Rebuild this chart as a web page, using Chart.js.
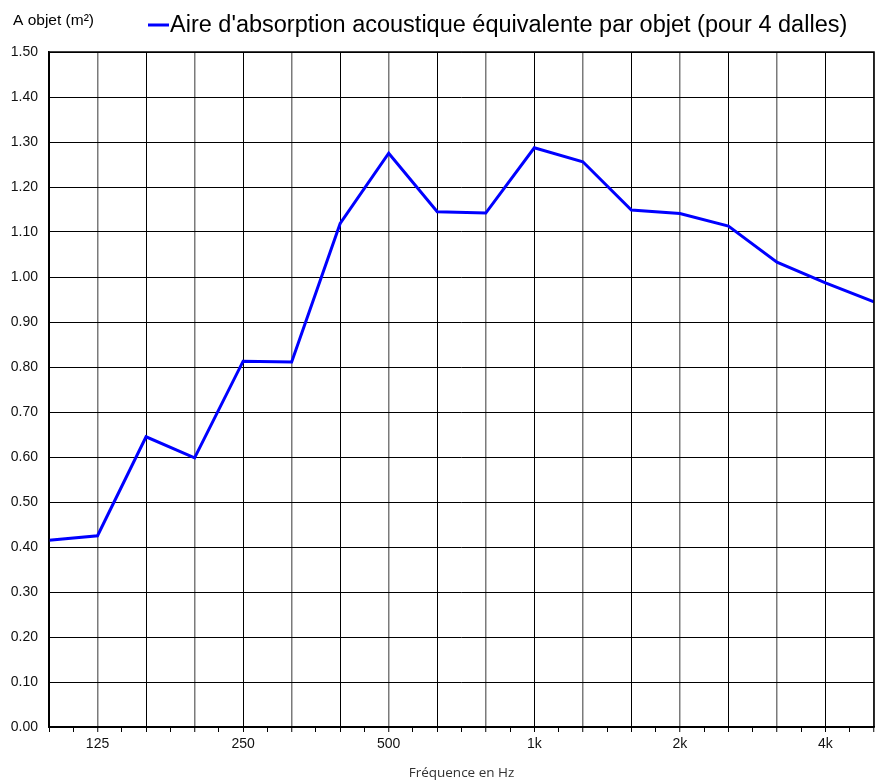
<!DOCTYPE html>
<html>
<head>
<meta charset="utf-8">
<script src="https://cdn.jsdelivr.net/npm/chart.js@4/dist/chart.umd.min.js"></script>
<style>
  html, body { margin: 0; padding: 0; background: #fff; }
  #wrap { width: 881px; height: 780px; position: relative; }
</style>
</head>
<body>
<div id="wrap"><canvas id="c"></canvas></div>
<script>
const categories = ['100','125','160','200','250','315','400','500','630','800','1k','1.25k','1.6k','2k','2.5k','3.15k','4k','5k'];
const tickLabels = ['','125','','','250','','','500','','','1k','','','2k','','','4k',''];
const seriesValues = [0.415,0.425,0.645,0.598,0.813,0.811,1.119,1.275,1.145,1.142,1.287,1.256,1.149,1.141,1.113,1.033,0.987,0.945];
const yTicks = [0,0.1,0.2,0.3,0.4,0.5,0.6,0.7,0.8,0.9,1.0,1.1,1.2,1.3,1.4,1.5];
const seriesName = "Aire d'absorption acoustique équivalente par objet (pour 4 dalles)";
const yTitle = 'A objet (m²)';
const xTitle = 'Fréquence en Hz';

const points = seriesValues.map((v, i) => ({ x: i, y: v }));

const textPlugin = {
  id: 'texts',
  afterDraw(chart) {
    const ctx = chart.ctx;
    const a = chart.chartArea;
    ctx.save();
    // frame
    ctx.strokeStyle = '#000';
    ctx.lineWidth = 1.5;
    ctx.strokeRect(a.left, a.top, a.right - a.left, a.bottom - a.top);
    // y title
    ctx.fillStyle = '#000';
    ctx.font = '15.5px "Liberation Sans", Arial, sans-serif';
    ctx.textAlign = 'left';
    ctx.textBaseline = 'middle';
    ctx.fillText(yTitle, 13, 21);
    // legend
    ctx.strokeStyle = '#0000ff';
    ctx.lineWidth = 3;
    ctx.beginPath();
    ctx.moveTo(148, 25);
    ctx.lineTo(169, 25);
    ctx.stroke();
    ctx.font = '23.5px "Liberation Sans", Arial, sans-serif';
    ctx.fillText(seriesName, 170, 26);
    // x title
    ctx.font = '13.5px "Open Sans", sans-serif';
    ctx.fillStyle = '#333';
    ctx.textAlign = 'center';
    ctx.fillText(xTitle, (a.left + a.right) / 2, 773);
    ctx.restore();
  }
};

new Chart(document.getElementById('c'), {
  type: 'line',
  data: {
    datasets: [{
      label: seriesName,
      data: points,
      borderColor: '#0000ff',
      backgroundColor: '#0000ff',
      borderWidth: 3,
      pointRadius: 0,
      tension: 0,
      fill: false
    }]
  },
  options: {
    responsive: true,
    maintainAspectRatio: false,
    animation: false,
    layout: { padding: { left: 0, right: 7, top: 52, bottom: 0 } },
    plugins: { legend: { display: false }, tooltip: { enabled: false } },
    scales: {
      x: {
        type: 'linear',
        min: 0,
        max: categories.length - 1,
        afterBuildTicks(scale) {
          const t = [];
          for (let i = 0; i < categories.length; i++) {
            t.push({ value: i });
            if (i < categories.length - 1) t.push({ value: i + 0.5 });
          }
          scale.ticks = t;
        },
        afterFit(scale) { scale.height = 53; },
        border: { display: true, color: '#000', width: 1.5 },
        grid: {
          color(ctx) {
            const v = ctx.tick ? ctx.tick.value : 0;
            if (!Number.isInteger(v)) return 'rgba(0,0,0,0)';
            return (v % 2 === 1) ? '#7a7a7a' : '#000';
          },
          lineWidth(ctx) {
            const v = ctx.tick ? ctx.tick.value : 0;
            return (v % 2 === 1) ? 1.5 : 1;
          },
          tickColor: '#000',
          tickLength: 5,
          tickWidth: 1,
          drawTicks: true
        },
        ticks: {
          autoSkip: false,
          maxRotation: 0,
          padding: 4,
          color: '#111',
          font: { family: '"Liberation Sans", Arial, sans-serif', size: 14 },
          callback(v) { return Number.isInteger(v) ? tickLabels[v] : ''; }
        }
      },
      y: {
        min: 0,
        max: 1.5,
        afterBuildTicks(scale) { scale.ticks = yTicks.map(v => ({ value: v })); },
        afterFit(scale) { scale.width = 49; },
        border: { display: true, color: '#000', width: 1.5 },
        grid: { color: '#000', lineWidth: 1, drawTicks: false },
        ticks: {
          padding: 11,
          color: '#111',
          font: { family: '"Liberation Sans", Arial, sans-serif', size: 14 },
          callback(v) { return Number(v).toFixed(2); }
        }
      }
    }
  },
  plugins: [textPlugin]
});
</script>
</body>
</html>
